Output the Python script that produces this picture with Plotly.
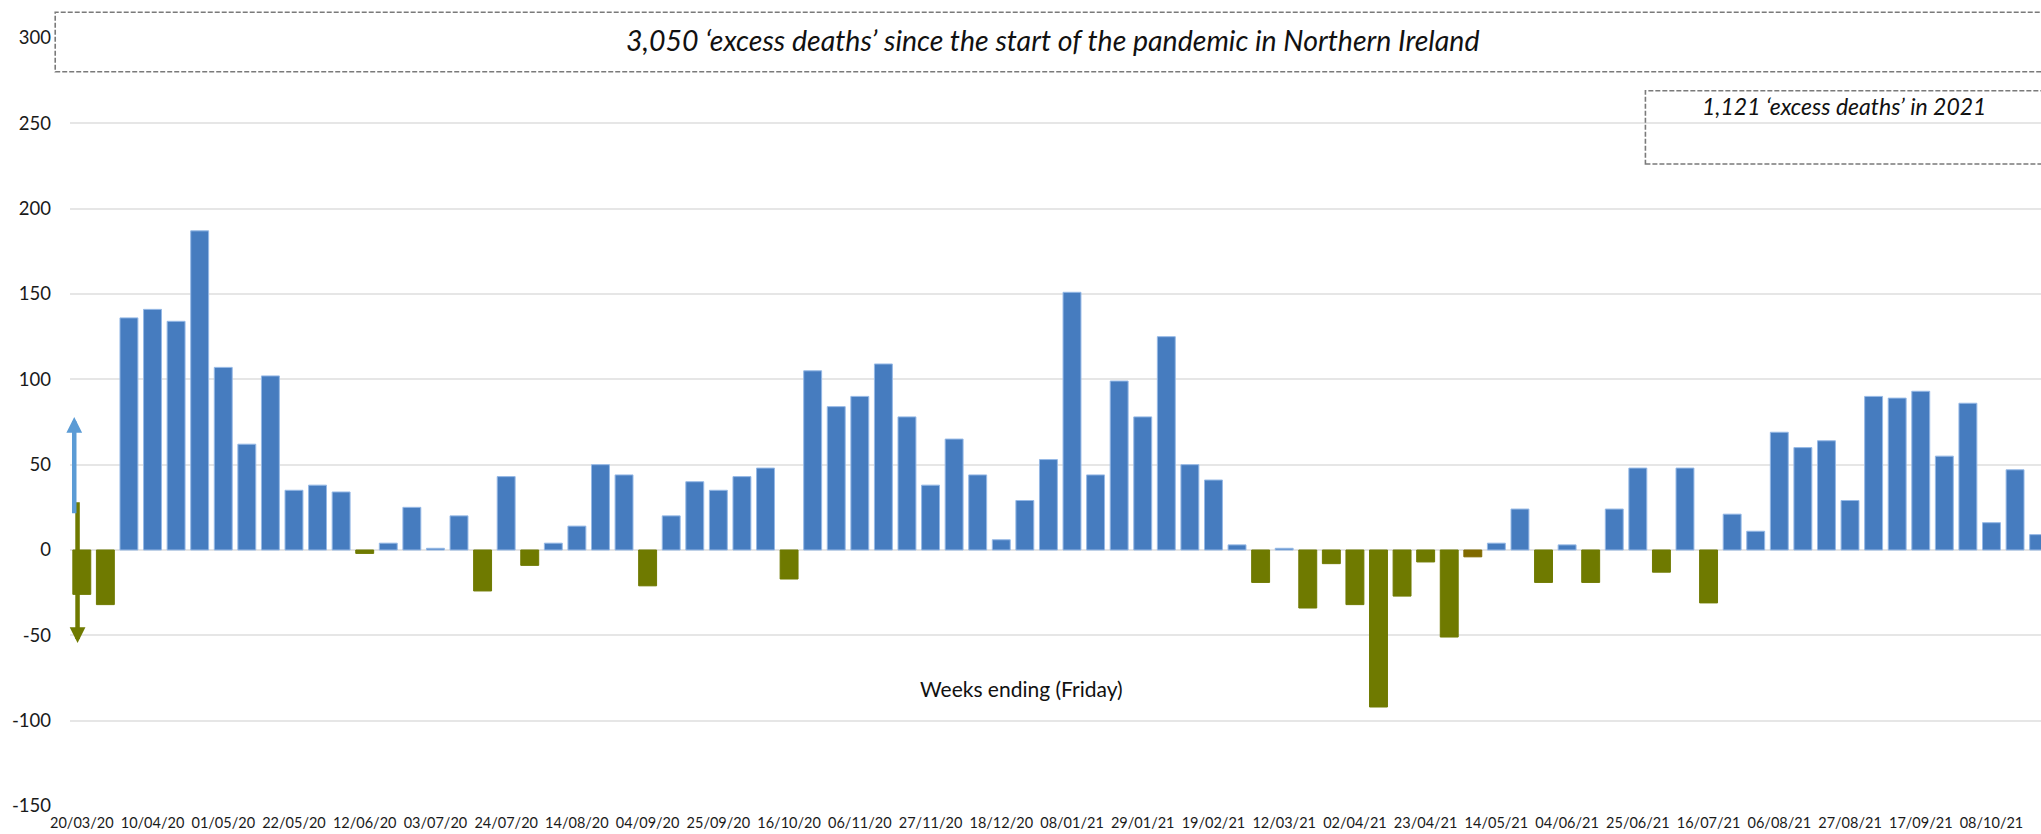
import pandas as pd
import plotly.graph_objects as go

# ---- data ----
weeks = [d.strftime("%d/%m/%y") for d in pd.date_range("2020-03-20", periods=84, freq="7D")]

excess = [-26, -32, 136, 141, 134, 187, 107, 62, 102, 35,
          38, 34, -2, 4, 25, 1, 20, -24, 43, -9,
          4, 14, 50, 44, -21, 20, 40, 35, 43, 48,
          -17, 105, 84, 90, 109, 78, 38, 65, 44, 6,
          29, 53, 151, 44, 99, 78, 125, 50, 41, 3,
          -19, 1, -34, -8, -32, -92, -27, -7, -51, -4,
          4, 24, -19, 3, -19, 24, 48, -13, 48, -31,
          21, 11, 69, 60, 64, 29, 90, 89, 93, 55,
          86, 16, 47, 9]

tick_labels = ["20/03/20", "10/04/20", "01/05/20", "22/05/20", "12/06/20", "03/07/20",
               "24/07/20", "14/08/20", "04/09/20", "25/09/20", "16/10/20", "06/11/20",
               "27/11/20", "18/12/20", "08/01/21", "29/01/21", "19/02/21", "12/03/21",
               "02/04/21", "23/04/21", "14/05/21", "04/06/21", "25/06/21", "16/07/21",
               "06/08/21", "27/08/21", "17/09/21", "08/10/21"]

y_ticks = [-150, -100, -50, 0, 50, 100, 150, 200, 250, 300]
y_tick_text = ["-150", "-100", "-50", "0", "50", "100", "150", "200", "250", "300"]

title_text = "3,050 \u2018excess deaths\u2019 since the start of the pandemic in Northern Ireland"
sub_text = "1,121 \u2018excess deaths\u2019 in 2021"
axis_text = "Weeks ending (Friday)"

# ---- styling ----
BLUE = "rgb(70,124,191)"
OLIVE = "rgb(111,122,0)"
BROWN = "rgb(128,106,0)"
FONT = "Lato, 'Open Sans', sans-serif"

colors = [BLUE if v > 0 else OLIVE for v in excess]
colors[59] = BROWN
line_colors = ["rgb(150,185,230)" if v > 0 else c for v, c in zip(excess, colors)]

fig = go.Figure(go.Bar(
    x=weeks, y=excess,
    marker=dict(color=colors, line=dict(color=line_colors, width=1)),
    hoverinfo="x+y",
))

fig.update_layout(
    width=2041, height=834,
    margin=dict(l=70, r=0, t=38, b=28),
    paper_bgcolor="white", plot_bgcolor="white",
    bargap=0.24,
    showlegend=False,
    font=dict(family=FONT, color="#1a1a1a"),
    xaxis=dict(
        type="category", range=[-0.5, 83.1],
        tickmode="array", tickvals=tick_labels, ticktext=tick_labels,
        showgrid=False, zeroline=False, showline=False, ticks="",
        tickfont=dict(size=14.5, color="#1a1a1a", family=FONT),
        ticklabelstandoff=6, tickangle=0,
    ),
    yaxis=dict(
        range=[-150, 300],
        tickmode="array", tickvals=y_ticks, ticktext=y_tick_text,
        showgrid=True, gridcolor="#E6E6E6", gridwidth=1.6,
        zeroline=False, showline=False, ticks="",
        tickfont=dict(size=18.5, color="#1a1a1a", family=FONT),
        ticklabelstandoff=18,
    ),
    shapes=[
        dict(type="rect", xref="paper", yref="paper",
             x0=-0.0075, x1=1.01, y0=0.956, y1=1.0335,
             line=dict(color="#7A7A7A", width=1.6, dash="5px,2px"),
             fillcolor="white", layer="above"),
        dict(type="rect", xref="paper", yref="paper",
             x0=0.7993, x1=1.01, y0=0.8359, y1=0.9314,
             line=dict(color="#7A7A7A", width=1.6, dash="5px,2px"),
             fillcolor="rgba(0,0,0,0)", layer="above"),
    ],
    annotations=[
        dict(text="<i>" + title_text + "</i>", xref="paper", yref="paper",
             x=0.4984, y=0.997, xanchor="center", yanchor="middle",
             showarrow=False, font=dict(size=28.5, color="#111111", family=FONT)),
        dict(text="<i>" + sub_text + "</i>", xref="paper", yref="paper",
             x=0.8999, y=0.9115, xanchor="center", yanchor="middle",
             showarrow=False, font=dict(size=23, color="#111111", family=FONT)),
        dict(text=axis_text, xref="paper", yref="paper",
             x=0.483, y=0.1527, xanchor="center", yanchor="middle",
             showarrow=False, font=dict(size=21, color="#111111", family=FONT)),
        # down arrow (olive)
        dict(x=-0.18, y=-54.5, ax=-0.18, ay=28.9, xref="x", yref="y",
             axref="x", ayref="y", showarrow=True, text="",
             arrowhead=2, arrowwidth=4.5, arrowsize=0.7, arrowcolor=OLIVE),
        # up arrow (light blue)
        dict(x=-0.32, y=77.9, ax=-0.32, ay=20.7, xref="x", yref="y",
             axref="x", ayref="y", showarrow=True, text="",
             arrowhead=2, arrowwidth=4.5, arrowsize=0.7, arrowcolor="rgb(91,155,213)"),
    ],
)

fig.write_html("out.html",
               config={"displayModeBar": False},
               post_script="document.body.style.margin='0';document.body.style.overflow='hidden';")
